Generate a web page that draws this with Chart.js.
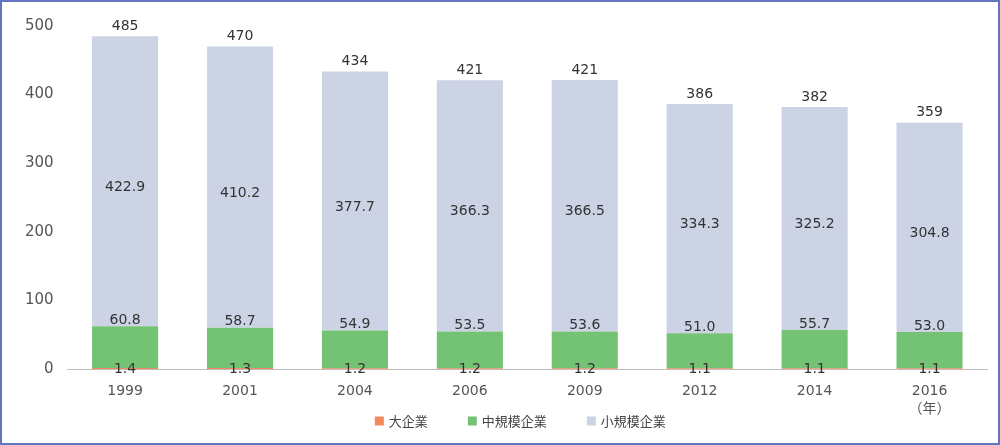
<!DOCTYPE html>
<html lang="ja">
<head>
<meta charset="utf-8">
<title>企業規模別企業数の推移</title>
<script src="https://cdn.jsdelivr.net/npm/chart.js@4"></script>
<style>
    html, body { margin: 0; padding: 0; background: #fff; }
    .frame {
        position: relative;
        width: 1000px;
        height: 445px;
        box-sizing: border-box;
        border: 2px solid #6275c3;
        background: #fff;
    }
    .frame canvas { display: block; }
</style>
</head>
<body>
<div class="frame">
    <canvas id="companyChart" width="996" height="441"></canvas>
</div>
<script>
// Data (万社)
const years = ['1999', '2001', '2004', '2006', '2009', '2012', '2014', ['2016', '（年）']];
const largeValues = [1.4, 1.3, 1.2, 1.2, 1.2, 1.1, 1.1, 1.1];
const midValues = [60.8, 58.7, 54.9, 53.5, 53.6, 51.0, 55.7, 53.0];
const smallValues = [422.9, 410.2, 377.7, 366.3, 366.5, 334.3, 325.2, 304.8];
const totals = [485, 470, 434, 421, 421, 386, 382, 359];
const yTicks = [0, 100, 200, 300, 400, 500];

const chartColors = {
    large: '#f4875b',
    mid: '#74c375',
    small: '#cbd3e5',
    text: '#333333',
    tick: '#555555',
    axis: '#bdbdbd'
};

const fontFamily = '"DejaVu Sans", "Noto Sans CJK JP", sans-serif';
const jpFont = '"Noto Sans CJK JP", sans-serif';

// Draw value labels on the segments and the total above each bar
const barLabels = {
    id: 'barLabels',
    afterDatasetsDraw(chart) {
        const ctx = chart.ctx;
        ctx.save();
        ctx.font = '14px ' + fontFamily;
        ctx.fillStyle = chartColors.text;
        ctx.textAlign = 'center';

        chart.data.datasets.forEach((ds, i) => {
            const meta = chart.getDatasetMeta(i);
            meta.data.forEach((bar, j) => {
                const v = ds.data[j];
                const text = v.toFixed(1);
                if (i === 0) {
                    ctx.textBaseline = 'middle';
                    ctx.fillText(text, bar.x, bar.base);
                } else if (i === 1) {
                    ctx.textBaseline = 'bottom';
                    ctx.fillText(text, bar.x, bar.y + 1);
                } else {
                    ctx.textBaseline = 'middle';
                    ctx.fillText(text, bar.x, (bar.y + bar.base) / 2 + 6);
                    ctx.textBaseline = 'bottom';
                    ctx.fillText(String(totals[j]), bar.x, bar.y - 3);
                }
            });
        });
        ctx.restore();
    }
};

// Simple legend row under the axis labels
const bottomLegend = {
    id: 'bottomLegend',
    afterDraw(chart) {
        const ctx = chart.ctx;
        const box = 9, gapText = 5, gapItem = 40;
        const y = 419;
        ctx.save();
        ctx.font = '13px ' + jpFont;
        ctx.textBaseline = 'middle';
        ctx.textAlign = 'left';
        const items = chart.data.datasets.map(ds => ({
            label: ds.label,
            color: ds.backgroundColor,
            w: box + gapText + ctx.measureText(ds.label).width
        }));
        const total = items.reduce((s, it) => s + it.w, 0) + gapItem * (items.length - 1);
        let x = (chart.chartArea.left + chart.chartArea.right) / 2 - total / 2 - 7;
        items.forEach(it => {
            ctx.fillStyle = it.color;
            ctx.fillRect(x, y - box / 2, box, box);
            ctx.fillStyle = '#444';
            ctx.fillText(it.label, x + box + gapText, y);
            x += it.w + gapItem;
        });
        ctx.restore();
    }
};

new Chart(document.getElementById('companyChart').getContext('2d'), {
    type: 'bar',
    data: {
        labels: years,
        datasets: [
            { label: '大企業', data: largeValues, backgroundColor: chartColors.large },
            { label: '中規模企業', data: midValues, backgroundColor: chartColors.mid },
            { label: '小規模企業', data: smallValues, backgroundColor: chartColors.small }
        ]
    },
    options: {
        responsive: false,
        animation: false,
        categoryPercentage: 1,
        barPercentage: 0.575,
        layout: {
            padding: { left: 17, right: 11, top: 24, bottom: 19 }
        },
        plugins: {
            legend: { display: false },
            tooltip: { enabled: false }
        },
        scales: {
            x: {
                stacked: true,
                grid: { display: false },
                border: { display: true, color: chartColors.axis, width: 1 },
                ticks: {
                    color: chartColors.tick,
                    padding: 6,
                    font: { family: fontFamily, size: 14, lineHeight: 1.25 },
                    maxRotation: 0
                }
            },
            y: {
                stacked: true,
                min: 0,
                max: 500,
                afterBuildTicks(axis) {
                    axis.ticks = yTicks.map(v => ({ value: v }));
                },
                grid: { display: false },
                border: { display: false },
                ticks: {
                    color: chartColors.tick,
                    padding: 6,
                    font: { family: fontFamily, size: 15 }
                }
            }
        }
    },
    plugins: [barLabels, bottomLegend]
});
</script>
</body>
</html>
